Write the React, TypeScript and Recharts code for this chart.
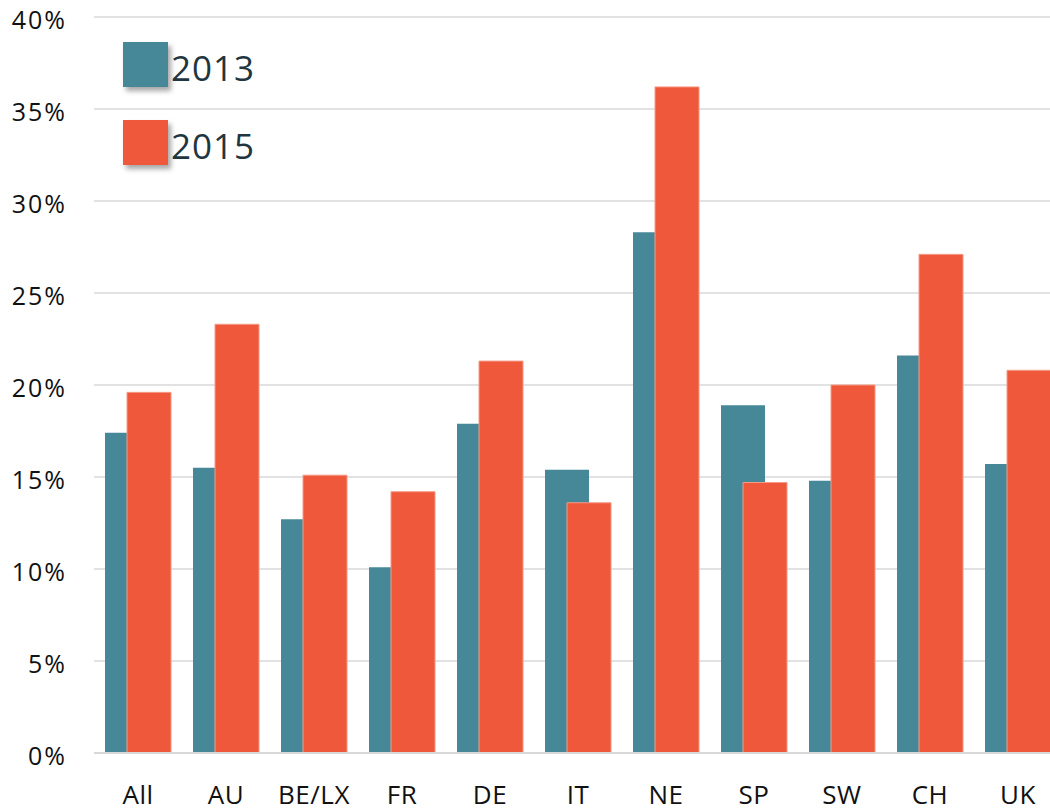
import React from 'react';
import { BarChart, Bar, XAxis, YAxis, CartesianGrid } from 'recharts';

// Share per country, two survey years
const COUNTRIES = ['All', 'AU', 'BE/LX', 'FR', 'DE', 'IT', 'NE', 'SP', 'SW', 'CH', 'UK'];
const VALUES_2013 = [17.4, 15.5, 12.7, 10.1, 17.9, 15.4, 28.3, 18.9, 14.8, 21.6, 15.7];
const VALUES_2015 = [19.6, 23.3, 15.1, 14.2, 21.3, 13.6, 36.2, 14.7, 20.0, 27.1, 20.8];
const Y_TICKS = [0, 5, 10, 15, 20, 25, 30, 35, 40];

const TEAL = '#468798';
const ORANGE = '#F0583C';
const FONT = '"Open Sans", sans-serif';

const SERIES = [
  { key: 'y2013', label: '2013', color: TEAL },
  { key: 'y2015', label: '2015', color: ORANGE },
];

const data = COUNTRIES.map((name, i) => ({
  name,
  y2013: VALUES_2013[i],
  y2015: VALUES_2015[i],
}));

// legend drawn as an overlay so it doesn't eat into the plot area
const LegendBox = () => (
  <div style={{ position: 'absolute', left: 123, top: 42, fontFamily: FONT }}>
    {SERIES.map((s) => (
      <div key={s.key} style={{ display: 'flex', alignItems: 'center', height: 45, marginBottom: 33 }}>
        <div
          style={{
            width: 45,
            height: 45,
            background: s.color,
            boxShadow: '3px 4px 5px rgba(0,0,0,0.35)',
          }}
        />
        <span
          style={{
            marginLeft: 3,
            paddingTop: 6,
            fontSize: 35,
            lineHeight: 1,
            color: '#1f3640',
            letterSpacing: 1,
          }}
        >
          {s.label}
        </span>
      </div>
    ))}
  </div>
);

export default function App() {
  return (
    <div
      style={{
        position: 'absolute',
        left: 0,
        top: 0,
        width: 1050,
        height: 812,
        overflow: 'hidden',
        background: '#fff',
      }}
    >
      <BarChart
        width={1070}
        height={812}
        data={data}
        margin={{ top: 17, right: 8, left: 0, bottom: 0 }}
        barSize={44}
        barGap={-22}
      >
        <CartesianGrid vertical={false} stroke="#e2e2e2" strokeWidth={2} />
        <XAxis
          dataKey="name"
          height={59}
          tickLine={false}
          tickSize={0}
          tickMargin={33}
          axisLine={{ stroke: '#d8d8d8', strokeWidth: 2 }}
          tick={{ fontSize: 26, fill: '#111', fontFamily: FONT, letterSpacing: 0.5 }}
          interval={0}
        />
        <YAxis
          width={94}
          domain={[0, 40]}
          ticks={Y_TICKS}
          tickFormatter={(v) => `${v}%`}
          axisLine={false}
          tickLine={false}
          tickSize={0}
          tickMargin={27}
          tick={{ fontSize: 25, fill: '#111', fontFamily: FONT, dy: 3, letterSpacing: 2 }}
        />
        {SERIES.map((s) => (
          <Bar
            key={s.key}
            dataKey={s.key}
            name={s.label}
            fill={s.color}
            stroke={s.key === 'y2015' ? '#f59a86' : undefined}
            strokeWidth={s.key === 'y2015' ? 1 : 0}
            isAnimationActive={false}
          />
        ))}
      </BarChart>
      <LegendBox />
    </div>
  );
}
